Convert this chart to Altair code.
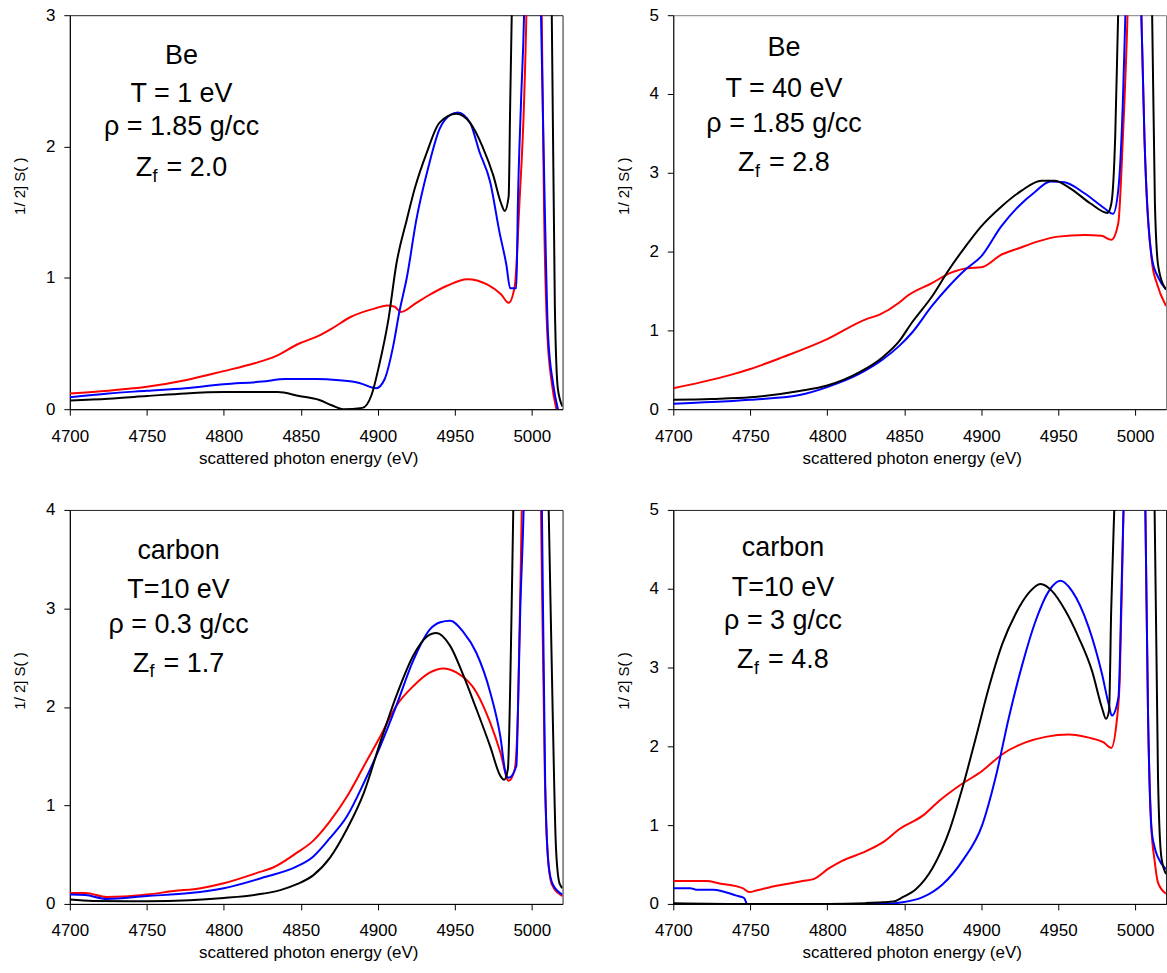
import altair as alt
import pandas as pd

FONT = "Liberation Sans"

# ---------- x ticks ----------
x_ticks = [4700, 4750, 4800, 4850, 4900, 4950, 5000]

# ---------- Panel A : Be, T = 1 eV ----------
A_red_E = [4700, 4725, 4750, 4775, 4800, 4820, 4833, 4849, 4860, 4871, 4882, 4899, 4906, 4911, 4915,
           4925, 4932, 4945, 4958, 4971, 4980, 4985, 4989, 4992, 4995, 4996.5, 5001, 5006.5, 5008,
           5010, 5013, 5016]
A_red_S = [0.12, 0.14, 0.17, 0.22, 0.29, 0.35, 0.40, 0.50, 0.55, 0.62, 0.70, 0.77, 0.79, 0.78, 0.74,
           0.81, 0.86, 0.94, 0.99, 0.95, 0.875, 0.81, 0.94, 1.57, 2.34, 3.0, 8.0, 3.0, 1.5,
           0.6, 0.2, 0.0]
A_blue_E = [4700, 4725, 4750, 4775, 4800, 4825, 4840, 4860, 4875, 4888, 4899, 4904.5, 4910, 4914, 4919,
            4925, 4933, 4940, 4947, 4952, 4960, 4966, 4973, 4979, 4983.5, 4986, 4990, 4991, 4993,
            4995, 5000, 5006, 5008.4, 5010.6, 5013.9, 5017]
A_blue_S = [0.09, 0.12, 0.14, 0.16, 0.19, 0.21, 0.23, 0.23, 0.22, 0.20, 0.16, 0.23, 0.48, 0.74, 1.01,
            1.44, 1.85, 2.13, 2.24, 2.26, 2.18, 1.96, 1.73, 1.35, 1.10, 0.92, 0.92, 1.57, 2.33,
            3.0, 8.0, 3.0, 1.57, 0.56, 0.19, 0.0]
A_black_E = [4700, 4725, 4750, 4775, 4800, 4835, 4849, 4862, 4870, 4877.5, 4890, 4896, 4901, 4907, 4912,
             4919, 4924, 4932, 4940, 4951, 4960, 4968, 4975, 4980, 4982.5, 4985, 4986, 4987, 5000,
             5013, 5015, 5017, 5020]
A_black_S = [0.066, 0.08, 0.10, 0.12, 0.13, 0.13, 0.10, 0.07, 0.03, 0.0, 0.01, 0.11, 0.34, 0.69, 1.10,
             1.45, 1.68, 1.96, 2.18, 2.25, 2.18, 2.00, 1.78, 1.57, 1.51, 1.62, 2.33, 3.0, 8.0,
             3.0, 0.78, 0.15, 0.02]
A_text = ["Be", "T = 1 eV", "ρ = 1.85 g/cc"]
A_zf = "= 2.0"

# ---------- Panel B : Be, T = 40 eV ----------
B_red_E = [4700, 4717.6, 4739, 4750, 4771, 4800, 4825, 4834, 4846.6, 4851.5, 4868, 4880, 4891, 4900,
           4913, 4924, 4937, 4950, 4967, 4978, 4984.5, 4989, 4992, 4995, 5000, 5004, 5006, 5011,
           5014, 5020]
B_red_S = [0.265, 0.34, 0.445, 0.51, 0.66, 0.89, 1.14, 1.20, 1.35, 1.43, 1.60, 1.73, 1.79, 1.80,
           1.96, 2.04, 2.13, 2.19, 2.21, 2.20, 2.15, 2.36, 3.45, 5.0, 10.0, 5.0, 3.45, 1.85,
           1.60, 1.31]
B_blue_E = [4700, 4725, 4750, 4782, 4800, 4821, 4836, 4846.6, 4855, 4868, 4879, 4889.6, 4900, 4913,
            4924, 4934.5, 4945, 4954, 4967, 4980, 4985.6, 4989, 4992, 4993.6, 5000, 5004, 5006,
            5011, 5015, 5020]
B_blue_S = [0.07, 0.09, 0.12, 0.18, 0.28, 0.45, 0.63, 0.80, 0.97, 1.31, 1.56, 1.77, 1.94, 2.32,
            2.57, 2.75, 2.89, 2.88, 2.74, 2.55, 2.48, 2.78, 3.91, 5.0, 10.0, 5.0, 3.45,
            1.90, 1.67, 1.52]
B_black_E = [4700, 4725, 4750, 4782, 4800, 4821, 4836, 4846.6, 4855, 4868, 4879, 4889.6, 4900, 4913,
             4926, 4939, 4947.6, 4958, 4971, 4982, 4984.5, 4987, 4988.9, 5000, 5011, 5012.8,
             5015, 5020]
B_black_S = [0.12, 0.13, 0.15, 0.23, 0.30, 0.47, 0.66, 0.86, 1.10, 1.43, 1.77, 2.06, 2.32, 2.57,
             2.77, 2.90, 2.90, 2.80, 2.61, 2.49, 2.61, 3.45, 5.0, 10.0, 5.0, 2.61,
             1.81, 1.52]
B_text = ["Be", "T = 40 eV", "ρ = 1.85 g/cc"]
B_zf = "= 2.8"

# ---------- Panel C : carbon, T = 10 eV, rho = 0.3 ----------
C_red_E = [4700, 4710, 4724, 4735, 4750, 4767.5, 4785, 4800, 4821.6, 4832, 4847.5, 4858, 4869, 4880,
           4891, 4901.6, 4912, 4923, 4934, 4942.5, 4951, 4964, 4973, 4979.6, 4985, 4989, 4991,
           4993.5, 5000, 5006, 5008.5, 5010, 5013, 5020]
C_red_S = [0.11, 0.11, 0.07, 0.075, 0.095, 0.13, 0.16, 0.21, 0.315, 0.37, 0.52, 0.64, 0.84, 1.09,
           1.40, 1.70, 2.01, 2.21, 2.35, 2.39, 2.35, 2.15, 1.84, 1.54, 1.25, 1.37, 1.94,
           4.0, 10.0, 4.0, 1.3, 0.6, 0.2, 0.08]
C_blue_E = [4700, 4710, 4724, 4750, 4778, 4800, 4826, 4847.5, 4858, 4869, 4880, 4891, 4901.6, 4912,
            4923, 4934, 4940.6, 4947, 4955.6, 4964, 4973, 4979.6, 4983, 4985, 4990, 4991, 4992.5,
            4994.7, 5000, 5006.6, 5008.7, 5011, 5013.6, 5020]
C_blue_S = [0.095, 0.09, 0.05, 0.08, 0.11, 0.16, 0.27, 0.38, 0.48, 0.67, 0.89, 1.23, 1.60, 2.01,
            2.47, 2.79, 2.86, 2.875, 2.76, 2.55, 2.15, 1.70, 1.33, 1.28, 1.40, 1.94, 2.96,
            4.0, 10.0, 4.0, 1.25, 0.38, 0.20, 0.095]
C_black_E = [4700, 4715, 4750, 4778, 4800, 4821.6, 4836.7, 4847.5, 4858, 4869, 4880, 4891, 4901.6,
             4912, 4923, 4931.6, 4938, 4947, 4955.6, 4964, 4973, 4979.6, 4982, 4984.5, 4986.5,
             4988, 5000, 5011, 5013.6, 5015.7, 5018, 5020]
C_black_S = [0.044, 0.03, 0.027, 0.037, 0.06, 0.095, 0.14, 0.20, 0.29, 0.47, 0.76, 1.13, 1.64,
             2.11, 2.52, 2.71, 2.75, 2.62, 2.32, 1.98, 1.60, 1.30, 1.26, 1.37, 2.62,
             4.0, 10.0, 4.0, 1.94, 0.58, 0.21, 0.16]
C_text = ["carbon", "T=10 eV", "ρ = 0.3 g/cc"]
C_zf = "= 1.7"

# ---------- Panel D : carbon, T = 10 eV, rho = 3 ----------
D_red_E = [4700, 4721.5, 4730, 4745, 4749.5, 4754, 4767, 4784, 4791, 4801, 4810, 4823, 4836, 4847,
           4862, 4872.8, 4885.7, 4900.8, 4913.7, 4928.8, 4941.8, 4956.8, 4969.8, 4979.5, 4984.4,
           4988, 4990, 4992.4, 5000, 5006.6, 5008.3, 5010.5, 5012.6, 5014.8, 5020]
D_red_S = [0.29, 0.29, 0.26, 0.20, 0.15, 0.17, 0.23, 0.29, 0.315, 0.45, 0.55, 0.65, 0.78, 0.95,
           1.12, 1.31, 1.50, 1.69, 1.90, 2.05, 2.12, 2.15, 2.11, 2.05, 1.98,
           2.32, 2.87, 5.0, 10.0, 5.0, 2.45, 0.97, 0.55, 0.27, 0.13]
D_blue_E = [4700, 4711, 4715, 4726, 4741, 4746, 4748, 4800, 4836, 4849, 4862, 4875, 4887.9, 4900.8,
            4909.4, 4918, 4926.7, 4935.3, 4943.9, 4951.5, 4959, 4969.8, 4978.4, 4982.7, 4984.8,
            4989.1, 4991.3, 4992.4, 5000, 5006.6, 5008.3, 5010.5, 5012.6, 5014.8, 5020]
D_blue_S = [0.20, 0.20, 0.18, 0.18, 0.105, 0.075, 0.0, 0.0, 0.0, 0.02, 0.085, 0.25, 0.55, 1.01,
            1.61, 2.37, 3.04, 3.59, 3.97, 4.10, 3.97, 3.51, 2.92, 2.54, 2.39,
            2.62, 4.14, 5.0, 10.0, 5.0, 2.45, 0.97, 0.72, 0.59, 0.44]
D_black_E = [4700, 4750, 4800, 4825, 4836, 4843, 4849, 4857.7, 4868.5, 4879.3, 4887.9, 4896.5, 4905,
             4913.7, 4922.3, 4931, 4938.5, 4946, 4954.7, 4963.3, 4971.9, 4978.4, 4981, 4983,
             4984.4, 4986.4, 5000, 5012.6, 5014.8, 5017, 5020]
D_black_S = [0.01, 0.0, 0.0, 0.01, 0.02, 0.03, 0.085, 0.19, 0.46, 0.93, 1.48, 2.11, 2.75,
             3.30, 3.68, 3.95, 4.06, 3.97, 3.72, 3.38, 2.96, 2.49, 2.35, 2.45,
             3.72, 5.0, 10.0, 5.0, 1.61, 0.59, 0.38]
D_text = ["carbon", "T=10 eV", "ρ = 3 g/cc"]
D_zf = "= 4.8"

W, H = 494, 395
RED, BLUE, BLACK = "#ff0000", "#0000ff", "#000000"


def panel(series, ymax, lines, zf, cx, bl, stroke):
    xs = alt.Scale(domain=[4700, 5020], nice=False, zero=False)
    ys = alt.Scale(domain=[0, ymax], nice=False, zero=True)
    xaxis = alt.Axis(values=x_ticks, format="d", title="scattered photon energy (eV)", grid=False,
                     labelFlush=False, labelOverlap=False, tickSize=6, tickColor="black",
                     domainColor="black", labelPadding=13, labelFont=FONT, labelFontSize=17,
                     labelColor="black", titleFont=FONT, titleFontSize=17, titleFontWeight="normal",
                     titleColor="black", titlePadding=6, titleX=W / 2 - 8)
    yaxis = alt.Axis(values=list(range(ymax + 1)), format="d", title="1/ 2] S( )", grid=False,
                     tickSize=6, tickColor="black", domainColor="black", labelPadding=9,
                     labelFont=FONT, labelFontSize=17, labelColor="black", labelFlush=False,
                     titleFont=FONT, titleFontSize=15, titleFontWeight="normal", titleColor="black",
                     titleX=-50, titleY=171, titleAngle=270, titleAlign="center",
                     titleBaseline="middle")
    layers = []
    for E, S, col in series:
        df = pd.DataFrame({"E": E, "S": S})
        layers.append(
            alt.Chart(df).mark_line(color=col, strokeWidth=2, clip=True,
                                    interpolate="monotone").encode(
                x=alt.X("E:Q", scale=xs, axis=xaxis),
                y=alt.Y("S:Q", scale=ys, axis=yaxis),
            )
        )
    # annotation lines
    for txt, b in zip(lines, bl[:3]):
        layers.append(
            alt.Chart(pd.DataFrame({"t": [txt]})).mark_text(
                font=FONT, fontSize=27, color="black", align="center", baseline="alphabetic"
            ).encode(text="t:N", x=alt.value(cx), y=alt.value(b))
        )
    bz = bl[3]
    layers.append(
        alt.Chart(pd.DataFrame({"t": ["Z"]})).mark_text(
            font=FONT, fontSize=27, color="black", align="left", baseline="alphabetic"
        ).encode(text="t:N", x=alt.value(cx - 46), y=alt.value(bz))
    )
    layers.append(
        alt.Chart(pd.DataFrame({"t": ["f"]})).mark_text(
            font=FONT, fontSize=18, color="black", align="left", baseline="alphabetic"
        ).encode(text="t:N", x=alt.value(cx - 29), y=alt.value(bz + 6))
    )
    layers.append(
        alt.Chart(pd.DataFrame({"t": [zf]})).mark_text(
            font=FONT, fontSize=27, color="black", align="left", baseline="alphabetic"
        ).encode(text="t:N", x=alt.value(cx - 15), y=alt.value(bz))
    )
    return alt.layer(*layers).properties(
        width=W, height=H, view=alt.ViewBackground(stroke=stroke, strokeWidth=1)
    )


pA = panel([(A_red_E, A_red_S, RED), (A_blue_E, A_blue_S, BLUE), (A_black_E, A_black_S, BLACK)],
           3, A_text, A_zf, 112, [49, 87, 120, 161], "#222222")
pB = panel([(B_red_E, B_red_S, RED), (B_blue_E, B_blue_S, BLUE), (B_black_E, B_black_S, BLACK)],
           5, B_text, B_zf, 111, [41, 82, 117, 156], "#808080")
pC = panel([(C_red_E, C_red_S, RED), (C_blue_E, C_blue_S, BLUE), (C_black_E, C_black_S, BLACK)],
           4, C_text, C_zf, 109, [49, 88, 123, 162], "#222222")
pD = panel([(D_red_E, D_red_S, RED), (D_blue_E, D_blue_S, BLUE), (D_black_E, D_black_S, BLACK)],
           5, D_text, D_zf, 110, [46, 86, 119, 158], "#222222")

chart = alt.vconcat(
    alt.hconcat(pA, pB, spacing=52),
    alt.hconcat(pC, pD, spacing=52),
    spacing=33,
).properties(
    padding={"left": 12, "top": 4, "right": 0, "bottom": 0},
    background="white",
).configure_view(stroke="#222222")

chart.save("out.html", embed_options={"renderer": "svg", "actions": False})
